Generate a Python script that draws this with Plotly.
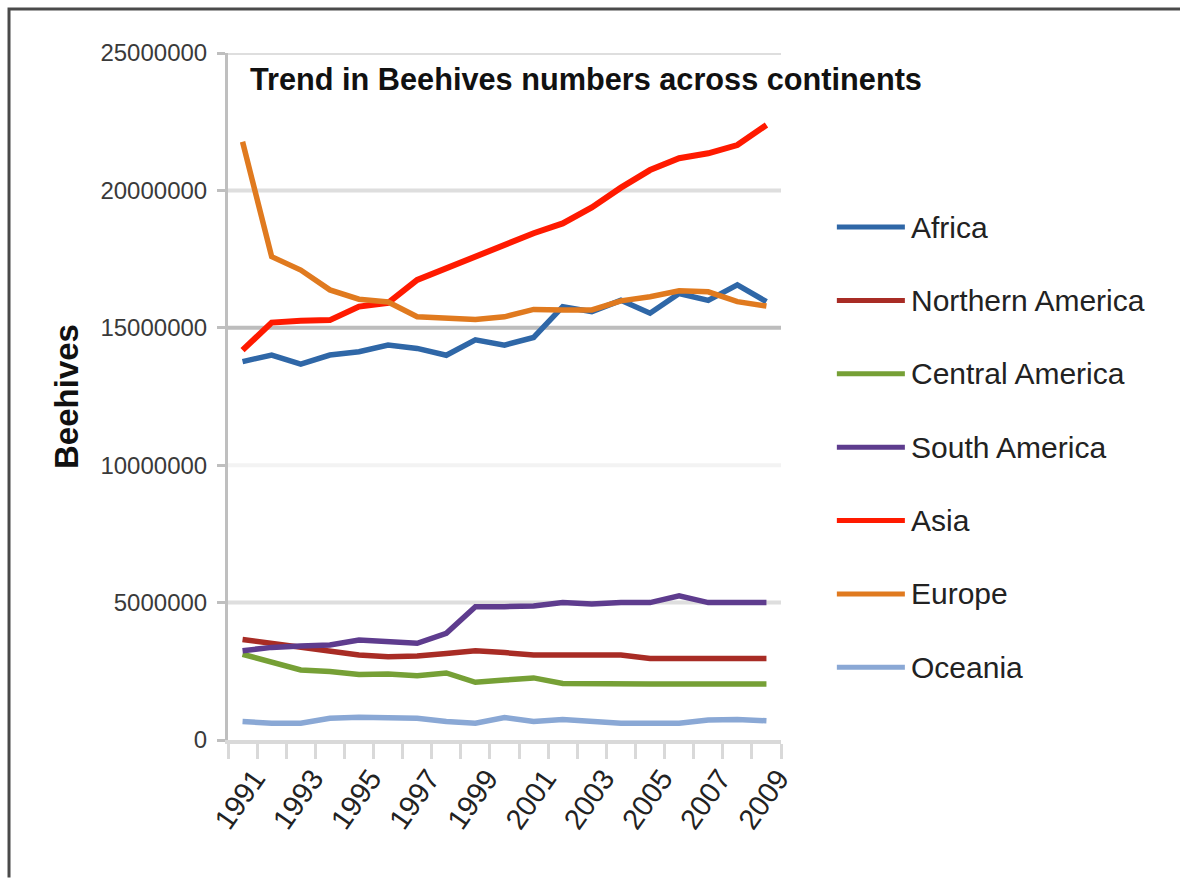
import plotly.graph_objects as go

years = list(range(1991, 2010))
tick_years = [1991, 1993, 1995, 1997, 1999, 2001, 2003, 2005, 2007, 2009]
tick_labels = [str(y) for y in tick_years]
y_ticks = [0, 5000000, 10000000, 15000000, 20000000, 25000000]
y_tick_labels = [str(v) for v in y_ticks]
grid_values = [5000000, 10000000, 15000000, 20000000, 25000000]
grid_colors = ["#DEDEDE", "#F3F3F3", "#BDBDBD", "#DEDEDE", "#DEDEDE"]

africa = [13770000, 14010000, 13680000, 14010000, 14130000, 14370000, 14250000, 14000000, 14560000, 14370000,
          14650000, 15770000, 15590000, 16000000, 15530000, 16250000, 16000000, 16560000, 15950000]
northern_america = [3660000, 3520000, 3370000, 3250000, 3090000, 3030000, 3060000, 3150000, 3250000, 3180000,
                    3090000, 3090000, 3090000, 3090000, 2970000, 2970000, 2970000, 2970000, 2970000]
central_america = [3120000, 2850000, 2550000, 2490000, 2380000, 2400000, 2340000, 2440000, 2100000, 2180000,
                   2260000, 2060000, 2040000, 2040000, 2040000, 2040000, 2040000, 2040000, 2040000]
south_america = [3250000, 3370000, 3420000, 3460000, 3640000, 3600000, 3520000, 3880000, 4850000, 4850000,
                 4880000, 5000000, 4950000, 5000000, 5000000, 5250000, 5000000, 5000000, 5000000]
asia = [14190000, 15190000, 15260000, 15280000, 15770000, 15910000, 16740000, 17160000, 17590000, 18000000,
        18440000, 18800000, 19380000, 20100000, 20740000, 21170000, 21350000, 21650000, 22380000]
europe = [21770000, 17590000, 17100000, 16380000, 16040000, 15940000, 15400000, 15340000, 15300000, 15400000,
          15670000, 15650000, 15650000, 15980000, 16130000, 16350000, 16310000, 15950000, 15790000]
oceania = [670000, 610000, 610000, 790000, 830000, 830000, 790000, 670000, 610000, 820000,
           670000, 750000, 670000, 610000, 610000, 610000, 730000, 750000, 700000]

series_names = ["Africa", "Northern America", "Central America", "South America", "Asia", "Europe", "Oceania"]
series_values = [africa, northern_america, central_america, south_america, asia, europe, oceania]
series_colors = ["#2F67A7", "#A82C25", "#76A036", "#5E3C8E", "#FF1A00", "#E07A1F", "#8AA8D5"]
series_widths = [5.5, 5.5, 5.5, 5.5, 6, 5.5, 5.5]

FONT = "Liberation Sans, Arial, sans-serif"

fig = go.Figure()

# horizontal gridlines
for gv, gc in zip(grid_values, grid_colors):
    fig.add_shape(type="line", xref="paper", yref="y", x0=0, x1=1, y0=gv, y1=gv,
                  line=dict(color=gc, width=4), layer="below")

for name, vals, col, w in zip(series_names, series_values, series_colors, series_widths):
    fig.add_trace(go.Scatter(x=years, y=vals, name=name, mode="lines",
                             line=dict(color=col, width=w), showlegend=False))

# Manual legend (long line samples like the original)
leg_top = 0.7467
leg_step = 0.1068
for i, (name, col) in enumerate(zip(series_names, series_colors)):
    yy = leg_top - i * leg_step
    fig.add_shape(type="line", xref="paper", yref="paper", x0=1.101, x1=1.224, y0=yy, y1=yy,
                  line=dict(color=col, width=5))
    fig.add_annotation(xref="paper", yref="paper", x=1.2315, y=yy, text=name, showarrow=False,
                       xanchor="left", yanchor="middle", font=dict(family=FONT, size=30, color="#222"))

# outer frame (left and top edges only are visible in the original): one open path
fig.add_shape(type="path", xref="paper", yref="paper",
              path="M -0.396,-0.2 L -0.396,1.064 L 1.74,1.064",
              line=dict(color="#4a4a4a", width=3), fillcolor="rgba(0,0,0,0)", layer="below")

fig.update_layout(
    width=1180, height=881,
    margin=dict(l=228, r=399, t=53, b=141, autoexpand=False),
    paper_bgcolor="white", plot_bgcolor="white",
    title=dict(text="<b>Trend in Beehives numbers across continents</b>",
               x=250 / 1180, xanchor="left", xref="container",
               y=1 - 79 / 881, yanchor="middle", yref="container",
               font=dict(family=FONT, size=30.7, color="#111")),
    xaxis=dict(range=[1990.5, 2009.5], tickmode="array", tickvals=tick_years, ticktext=tick_labels,
               ticks="", tickangle=-55, showgrid=False, zeroline=False,
               showline=True, linecolor="#D9D9D9", linewidth=4,
               tickfont=dict(family=FONT, size=29, color="#222"),
               ticklabelshift=12, ticklabelstandoff=6,
               minor=dict(ticks="outside", tick0=1990.5, dtick=1, ticklen=15, tickwidth=3,
                          tickcolor="#D9D9D9", showgrid=False)),
    yaxis=dict(range=[0, 25000000], tickmode="array", tickvals=y_ticks, ticktext=y_tick_labels,
               ticks="outside", ticklen=8, tickwidth=3, tickcolor="#BFBFBF",
               showline=True, linecolor="#BFBFBF", linewidth=3,
               showgrid=False, zeroline=False,
               tickfont=dict(family=FONT, size=24, color="#3a3a3a"),
               ticklabelstandoff=5,
               title=dict(text="<b>Beehives</b>", standoff=12,
                          font=dict(family=FONT, size=33, color="#111"))),
)

fig.write_html("out.html")
